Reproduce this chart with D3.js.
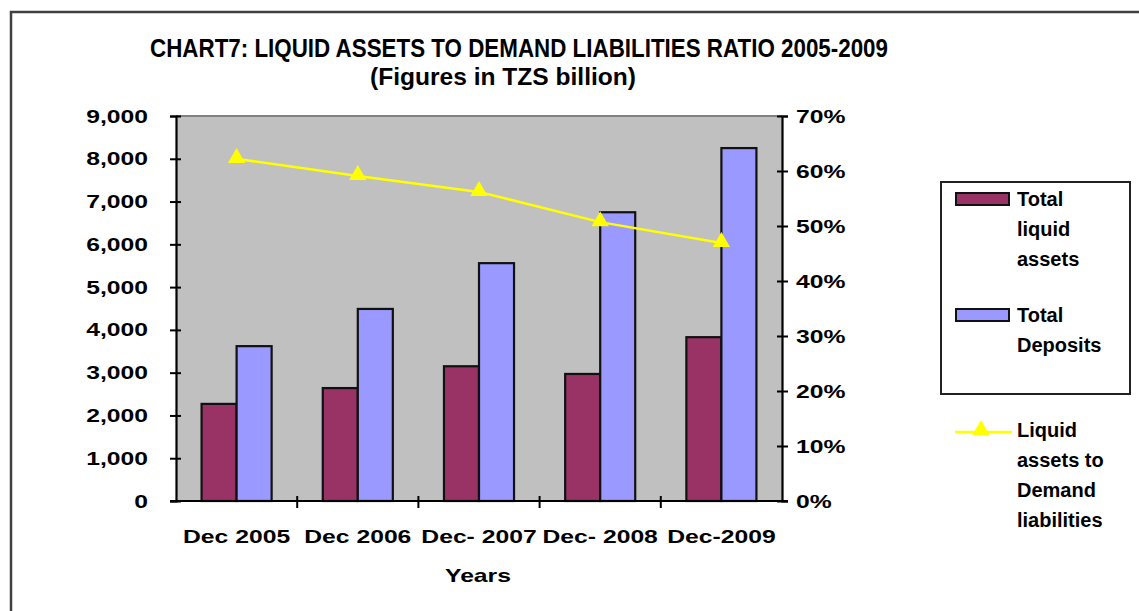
<!DOCTYPE html>
<html>
<head>
<meta charset="utf-8">
<script src="https://cdn.jsdelivr.net/npm/d3@7"></script>
<style>
  body { margin: 0; background: #fff; }
  text { font-family: 'Liberation Sans', Arial, sans-serif; font-weight: bold; fill: #000; }
</style>
</head>
<body>
<div id="chart"></div>
<script>
'use strict'

const categories = ['Dec 2005', 'Dec 2006', 'Dec- 2007', 'Dec- 2008', 'Dec-2009']
const seriesNames = ['Total liquid assets', 'Total Deposits']
const liquidAssets = [2270, 2640, 3150, 2970, 3830]
const totalDeposits = [3620, 4490, 5560, 6750, 8250]
const ratio = [0.622, 0.591, 0.562, 0.507, 0.469]
const leftTicks = [0, 1000, 2000, 3000, 4000, 5000, 6000, 7000, 8000, 9000]
const rightTicks = [0, 0.1, 0.2, 0.3, 0.4, 0.5, 0.6, 0.7]

const width = 1139,
    height = 611

const plot = { left: 176, right: 782, top: 116, bottom: 501 }
const colors = ['#993366', '#9999ff']

const svg = d3.select('#chart').append('svg')
  .attr('width', width)
  .attr('height', height)

// stretch text horizontally, the source picture is widened
const stretch = (sel, k) => {
  sel.each(function() {
    const len = this.getComputedTextLength()
    d3.select(this).attr('textLength', len * k).attr('lengthAdjust', 'spacingAndGlyphs')
  })
}

// outer chart frame
svg.append('rect')
  .attr('x', 11).attr('y', 12)
  .attr('width', 1200).attr('height', 700)
  .attr('fill', 'none')
  .attr('stroke', '#404040')
  .attr('stroke-width', 2.5)

// title
svg.append('text')
  .attr('x', 519).attr('y', 57)
  .attr('text-anchor', 'middle')
  .attr('font-size', 25)
  .attr('textLength', 738).attr('lengthAdjust', 'spacingAndGlyphs')
  .text('CHART7: LIQUID  ASSETS TO DEMAND LIABILITIES  RATIO 2005-2009')
svg.append('text')
  .attr('x', 503).attr('y', 85)
  .attr('text-anchor', 'middle')
  .attr('font-size', 24)
  .attr('textLength', 266).attr('lengthAdjust', 'spacingAndGlyphs')
  .text('(Figures in TZS billion)')

const x = d3.scaleBand()
  .domain(categories)
  .range([plot.left, plot.right])
  .padding(0)

const xSub = d3.scaleBand()
  .domain(seriesNames)
  .range([0, x.bandwidth()])
  .paddingInner(0)
  .paddingOuter(0.73)

const y = d3.scaleLinear().domain([0, 9000]).range([plot.bottom, plot.top])
const y2 = d3.scaleLinear().domain([0, 0.7]).range([plot.bottom, plot.top])

// plot area
svg.append('rect')
  .attr('x', plot.left).attr('y', plot.top)
  .attr('width', plot.right - plot.left).attr('height', plot.bottom - plot.top)
  .attr('fill', '#c0c0c0')
svg.append('line')
  .attr('x1', plot.left).attr('x2', plot.right)
  .attr('y1', plot.top).attr('y2', plot.top)
  .attr('stroke', '#808080').attr('stroke-width', 2)

// bars
const barData = []
categories.forEach((c, i) => {
  barData.push({ cat: c, s: seriesNames[0], v: liquidAssets[i], color: colors[0] })
  barData.push({ cat: c, s: seriesNames[1], v: totalDeposits[i], color: colors[1] })
})

svg.append('g')
  .selectAll('rect')
  .data(barData)
  .enter().append('rect')
  .attr('x', function(d) { return x(d.cat) + xSub(d.s) })
  .attr('y', function(d) { return y(d.v) })
  .attr('width', xSub.bandwidth())
  .attr('height', function(d) { return y(0) - y(d.v) })
  .attr('fill', function(d) { return d.color })
  .attr('stroke', '#111')
  .attr('stroke-width', 2.2)

// ratio line
const linePts = categories.map((c, i) => ({ cat: c, v: ratio[i] }))
const line = d3.line()
  .x(function(d) { return x(d.cat) + x.bandwidth() / 2 })
  .y(function(d) { return y2(d.v) })

svg.append('path')
  .datum(linePts)
  .attr('d', line)
  .attr('fill', 'none')
  .attr('stroke', '#ffff00')
  .attr('stroke-width', 2.5)

const tri = d3.symbol().type(d3.symbolTriangle).size(130)
svg.append('g')
  .selectAll('path')
  .data(linePts)
  .enter().append('path')
  .attr('d', tri)
  .attr('transform', function(d) { return 'translate(' + (x(d.cat) + x.bandwidth() / 2) + ',' + (y2(d.v) - 1) + ')' })
  .attr('fill', '#ffff00')

// left axis
const leftAxis = svg.append('g')
  .attr('transform', 'translate(' + plot.left + ',0)')
  .call(d3.axisLeft(y).tickValues(leftTicks).tickSize(6).tickPadding(22).tickFormat(d3.format(',')))
leftAxis.select('.domain').attr('stroke', '#000').attr('stroke-width', 2.2)
leftAxis.selectAll('.tick line').attr('x1', 5).attr('stroke', '#000').attr('stroke-width', 2)
leftAxis.selectAll('.tick text')
  .attr('font-size', 19).attr('font-family', 'Liberation Sans, Arial, sans-serif')
  .attr('font-weight', 'bold').attr('fill', '#000')
  .call(stretch, 1.3)

// right axis
const rightAxis = svg.append('g')
  .attr('transform', 'translate(' + plot.right + ',0)')
  .call(d3.axisRight(y2).tickValues(rightTicks).tickSize(6).tickPadding(8).tickFormat(d3.format('.0%')))
rightAxis.select('.domain').attr('stroke', '#000').attr('stroke-width', 2.2)
rightAxis.selectAll('.tick line').attr('x1', -5).attr('stroke', '#000').attr('stroke-width', 2)
rightAxis.selectAll('.tick text')
  .attr('font-size', 19).attr('font-family', 'Liberation Sans, Arial, sans-serif')
  .attr('font-weight', 'bold').attr('fill', '#000')
  .call(stretch, 1.3)

// bottom axis: ticks between categories
const bottom = svg.append('g')
bottom.append('line')
  .attr('x1', plot.left - 6).attr('x2', plot.right + 6)
  .attr('y1', plot.bottom).attr('y2', plot.bottom)
  .attr('stroke', '#000').attr('stroke-width', 2.2)
bottom.selectAll('.xtick')
  .data(categories.slice(1))
  .enter().append('line')
  .attr('class', 'xtick')
  .attr('x1', function(d) { return x(d) }).attr('x2', function(d) { return x(d) })
  .attr('y1', plot.bottom - 5).attr('y2', plot.bottom + 7)
  .attr('stroke', '#000').attr('stroke-width', 2)
bottom.selectAll('.xlab')
  .data(categories)
  .enter().append('text')
  .attr('class', 'xlab')
  .attr('x', function(d) { return x(d) + x.bandwidth() / 2 })
  .attr('y', 543)
  .attr('text-anchor', 'middle')
  .attr('font-size', 19)
  .text(function(d) { return d })
  .call(stretch, 1.3)

svg.append('text')
  .attr('x', 478).attr('y', 582)
  .attr('text-anchor', 'middle')
  .attr('font-size', 19)
  .text('Years')
  .call(stretch, 1.3)

// legend
const legend = svg.append('g')
legend.append('rect')
  .attr('x', 941).attr('y', 182)
  .attr('width', 189).attr('height', 212)
  .attr('fill', '#fff')
  .attr('stroke', '#222').attr('stroke-width', 2)

const legendItems = [
  { color: colors[0], y: 193, lines: ['Total', 'liquid', 'assets'] },
  { color: colors[1], y: 309, lines: ['Total', 'Deposits'] }
]
legendItems.forEach((it) => {
  legend.append('rect')
    .attr('x', 956).attr('y', it.y)
    .attr('width', 53).attr('height', 12)
    .attr('fill', it.color)
    .attr('stroke', '#111').attr('stroke-width', 2)
  legend.append('text')
    .attr('x', 1017).attr('y', it.y + 13)
    .attr('font-size', 20)
    .selectAll('tspan')
    .data(it.lines)
    .enter().append('tspan')
    .attr('x', 1017)
    .attr('dy', function(d, i) { return i === 0 ? 0 : 30 })
    .text(function(d) { return d })
})

legend.append('line')
  .attr('x1', 955).attr('x2', 1012)
  .attr('y1', 432).attr('y2', 432)
  .attr('stroke', '#ffff00').attr('stroke-width', 2.5)
legend.append('path')
  .attr('d', tri)
  .attr('transform', 'translate(981,430)')
  .attr('fill', '#ffff00')
legend.append('text')
  .attr('x', 1017).attr('y', 437)
  .attr('font-size', 20)
  .selectAll('tspan')
  .data(['Liquid', 'assets to', 'Demand', 'liabilities'])
  .enter().append('tspan')
  .attr('x', 1017)
  .attr('dy', function(d, i) { return i === 0 ? 0 : 30 })
  .text(function(d) { return d })
</script>
</body>
</html>
